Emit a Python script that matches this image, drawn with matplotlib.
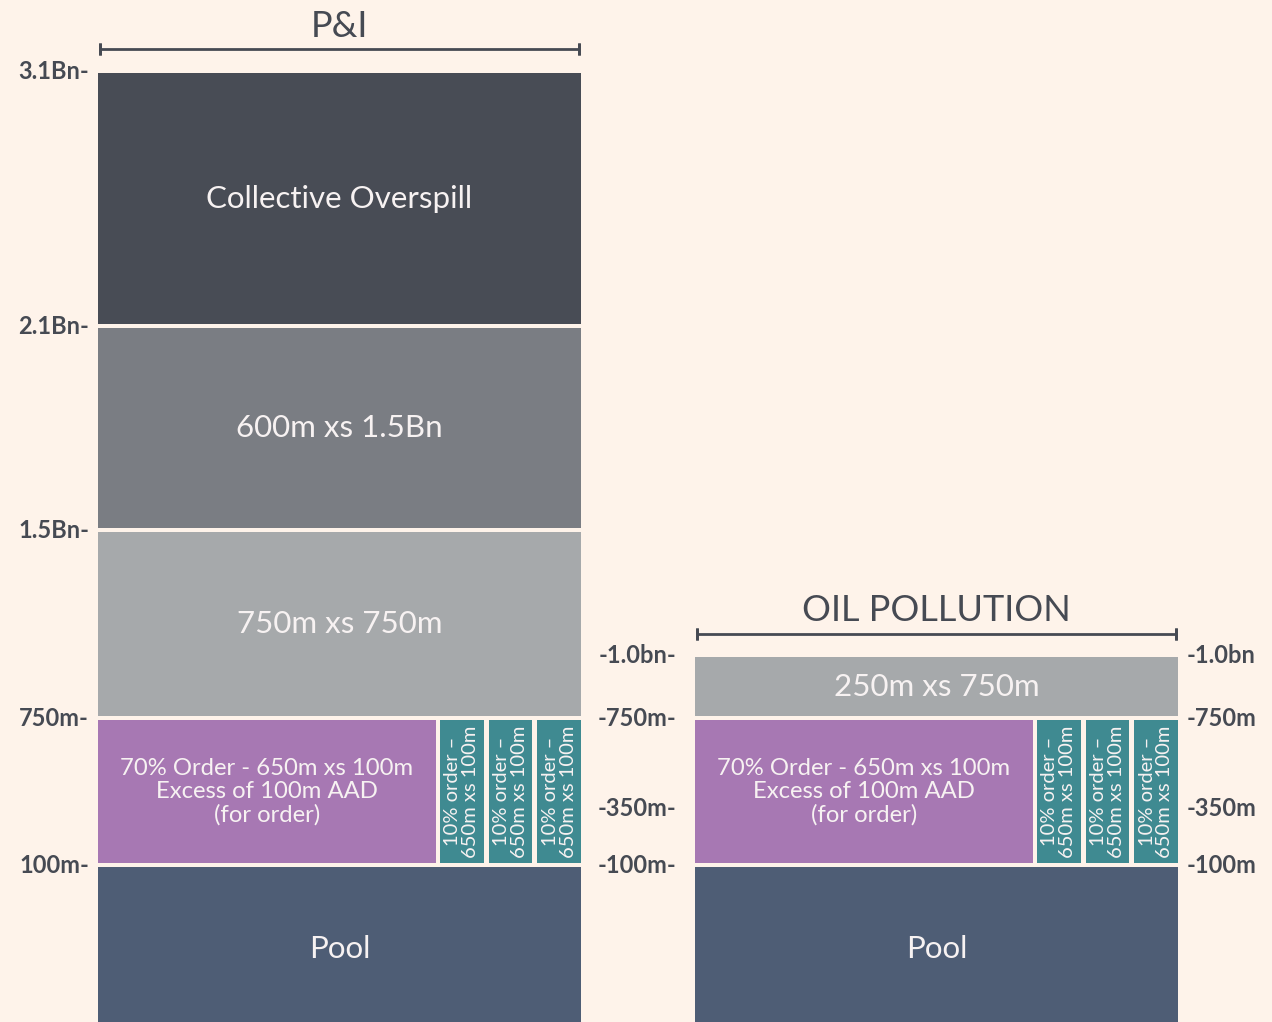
import numpy as np
import matplotlib
matplotlib.use("Agg")
import matplotlib.pyplot as plt
from matplotlib.patches import Rectangle
from matplotlib.transforms import offset_copy

plt.rcParams['font.family'] = ['Lato', 'DejaVu Sans']

# --- données ---
pi_bounds = [0, 100, 750, 1500, 2100, 3100]
pi_labels = ["Pool", None, "750m xs 750m", "600m xs 1.5Bn", "Collective Overspill"]
oil_bounds = [0, 100, 750, 1000]
oil_labels = ["Pool", None, "250m xs 750m"]

order_shares = [70, 10, 10, 10]
order_main = "70% Order - 650m xs 100m\nExcess of 100m AAD\n(for order)"
order_small = "10% order –\n650m xs 100m"

pi_ticks = [100, 750, 1500, 2100, 3100]
pi_tick_labels = ["100m-", "750m-", "1.5Bn-", "2.1Bn-", "3.1Bn-"]
oil_ticks = [100, 350, 750, 1000]
oil_mid_labels = ["-100m-", "-350m-", "-750m-", "-1.0bn-"]
oil_right_labels = ["-100m", "-350m", "-750m", "-1.0bn"]

# --- styles ---
bg = "#FEF3EA"
txt = "#464A53"
white = "#F7F2F2"
pi_colors = ["#4E5D75", None, "#A6A9AB", "#7A7D83", "#484C55"]
oil_colors = ["#4E5D75", None, "#A6A9AB"]
purple = "#A778B3"
teal = "#3F8A91"

W, H = 1272, 1022
col_w = 483
pi_x, oil_x = 98, 695
gap = 4
half = gap / 2

# échelle en morceaux (valeur -> hauteur en pixels depuis le bas)
brk_v = [-1000, 0, 100, 750, 1500, 2100, 3100, 10000]
brk_px = [-1200, -10, 157, 304, 492, 696, 951, 2700]


def fwd(v):
    return np.interp(v, brk_v, brk_px)


def inv(p):
    return np.interp(p, brk_px, brk_v)


fig = plt.figure(figsize=(W / 100, H / 100), dpi=100, facecolor=bg)
ax = fig.add_axes([0, 0, 1, 1])
ax.set_facecolor(bg)
ax.set_yscale('function', functions=(fwd, inv))
ax.set_xlim(0, W)
ax.set_ylim(inv(0), inv(H))
ax.axis('off')

lw = gap * 72 / 100


def box(x0, w, y0, y1, color, label=None, size=22.5, rot=0, ls=1.0):
    ax.add_patch(Rectangle((x0, y0), w, y1 - y0, facecolor=color,
                           edgecolor=bg, linewidth=lw))
    if label:
        ym = inv((fwd(y0) + fwd(y1)) / 2)
        ax.text(x0 + w / 2, ym, label, color=white, fontsize=size,
                ha='center', va='center', rotation=rot, linespacing=ls)


def column(x0, bounds, labels, colors):
    for i in range(len(bounds) - 1):
        y0, y1 = bounds[i], bounds[i + 1]
        if labels[i] is None and colors[i] is None:
            # couche des ordres 70/10/10/10
            tot = sum(order_shares)
            cx = x0 - half
            for j, s in enumerate(order_shares):
                w = (col_w + gap) * s / tot
                if j == 0:
                    box(cx, w + 1, y0, y1, purple, order_main, size=17.2, ls=1.12)
                else:
                    box(cx + 1, w - 1, y0, y1, teal, order_small, size=14.5,
                        rot=90, ls=1.05)
                cx += w
        else:
            box(x0 - half, col_w + gap, y0, y1, colors[i], labels[i])


column(pi_x, pi_bounds, pi_labels, pi_colors)
column(oil_x, oil_bounds, oil_labels, oil_colors)


def bracket(x0, top, title):
    tr = offset_copy(ax.transData, fig=fig, y=15.5, units='points')
    ax.plot([x0 + 2, x0 + col_w - 2], [top, top], color=txt, lw=2, transform=tr,
            solid_capstyle='butt')
    for xe in (x0 + 2, x0 + col_w - 2):
        ax.plot([xe, xe], [top, top], marker='|', markersize=8, mew=2,
                color=txt, transform=tr)
    tt = offset_copy(ax.transData, fig=fig, y=32, units='points')
    ax.text(x0 + col_w / 2, top, title, color=txt, fontsize=26,
            ha='center', va='center', transform=tt)


bracket(pi_x, pi_bounds[-1], "P&I")
bracket(oil_x, oil_bounds[-1], "OIL POLLUTION")

for v, l in zip(pi_ticks, pi_tick_labels):
    ax.text(pi_x - 9, v, l, color=txt, fontsize=17, fontweight='bold',
            ha='right', va='center')
for v, l in zip(oil_ticks, oil_mid_labels):
    ax.text(oil_x - 19, v, l, color=txt, fontsize=17, fontweight='bold',
            ha='right', va='center')
for v, l in zip(oil_ticks, oil_right_labels):
    ax.text(oil_x + col_w + 9, v, l, color=txt, fontsize=17, fontweight='bold',
            ha='left', va='center')

fig.savefig("out.png", dpi=100, facecolor=bg)
